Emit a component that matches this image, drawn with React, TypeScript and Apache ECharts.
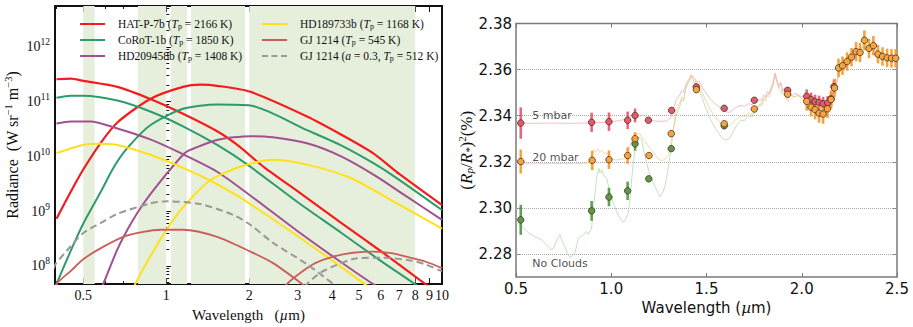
import React, { useEffect, useRef } from 'react';
import * as echarts from 'echarts';

// ---------- Left panel: [wavelength (µm), log10 radiance (W sr^-1 m^-3)] ----------
const hatP7Reflected = [[0.40, 11.41], [0.45, 11.42], [0.50, 11.38], [0.665, 11.27], [0.875, 11.05], [1.15, 10.78], [1.53, 10.46], [1.81, 10.21], [2.28, 9.79], [3.06, 9.33], [4.27, 8.80], [6.11, 8.24], [8.32, 7.74], [10, 7.45]];
const hatP7Thermal = [[0.40, 8.86], [0.449, 9.34], [0.50, 9.76], [0.577, 10.24], [0.665, 10.62], [0.875, 11.05], [1.15, 11.27], [1.33, 11.31], [1.53, 11.29], [2.02, 11.18], [3.24, 10.73], [4.27, 10.41], [5.62, 10.06], [7.04, 9.67], [10, 9.11]];
const coRoT1Reflected = [[0.40, 11.07], [0.45, 11.11], [0.50, 11.11], [0.665, 11.02], [0.875, 10.82], [1.15, 10.55], [1.53, 10.21], [1.97, 9.85], [3.06, 9.13], [4.27, 8.62], [5.96, 8.10], [7.85, 7.69], [10, 7.31]];
const coRoT1Thermal = [[0.39, 7.55], [0.40, 7.67], [0.449, 8.26], [0.50, 8.77], [0.577, 9.34], [0.643, 9.79], [0.722, 10.15], [0.875, 10.57], [1.15, 10.87], [1.53, 10.95], [2.02, 10.93], [3.24, 10.48], [4.27, 10.21], [5.62, 9.88], [6.87, 9.60], [10, 9.02]];
const hd209458Reflected = [[0.40, 10.60], [0.45, 10.64], [0.53, 10.64], [0.665, 10.51], [0.875, 10.31], [1.15, 10.04], [1.53, 9.72], [2.0, 9.30], [3.06, 8.60], [4.27, 8.08], [5.62, 7.67], [10, 6.90]];
const hd209458Thermal = [[0.56, 7.40], [0.591, 7.67], [0.665, 8.30], [0.74, 8.75], [0.825, 9.13], [0.951, 9.54], [1.15, 10.03], [1.20, 10.10], [1.53, 10.30], [2.02, 10.37], [2.44, 10.35], [3.24, 10.24], [4.27, 10.01], [5.72, 9.65], [7.53, 9.25], [10, 8.84]];
const hd189733Reflected = [[0.40, 10.06], [0.50, 10.21], [0.562, 10.23], [0.665, 10.21], [0.875, 10.03], [1.15, 9.79], [1.44, 9.56], [1.85, 9.25], [3.06, 8.51], [5.17, 7.69], [10, 6.60]];
const hd189733Thermal = [[0.74, 7.45], [0.772, 7.67], [0.875, 8.17], [1.008, 8.68], [1.15, 9.07], [1.44, 9.56], [1.85, 9.81], [2.44, 9.94], [3.24, 9.85], [4.64, 9.61], [6.76, 9.16], [10, 8.68]];
const gj1214Reflected = [[0.39, 7.50], [0.403, 7.69], [0.449, 7.90], [0.50, 8.12], [0.577, 8.32], [0.699, 8.53], [0.825, 8.62], [0.951, 8.66], [1.15, 8.66], [1.53, 8.53], [2.02, 8.26], [2.44, 8.05], [3.11, 7.67], [3.93, 7.27]];
const gj1214Thermal = [[2.5, 7.40], [2.744, 7.67], [3.06, 7.87], [3.47, 8.05], [4.03, 8.17], [4.76, 8.24], [5.62, 8.26], [6.64, 8.23], [7.66, 8.15], [8.68, 8.08], [10, 7.96]];
const gj1214AlbedoReflected = [[0.39, 7.95], [0.399, 8.05], [0.449, 8.35], [0.50, 8.60], [0.577, 8.78], [0.665, 8.95], [0.875, 9.14], [1.008, 9.18], [1.33, 9.13], [1.75, 8.93], [2.02, 8.75], [2.44, 8.42], [3.24, 8.03], [4.03, 7.67], [4.6, 7.45]];
const gj1214AlbedoThermal = [[3.0, 7.45], [3.243, 7.67], [3.614, 7.87], [4.03, 7.99], [4.92, 8.14], [6.11, 8.15], [7.66, 8.10], [8.68, 8.03], [10, 7.90]];

const shadedBands = [[0.5, 0.55], [0.79, 1.0], [1.04, 1.19], [1.23, 1.93], [2.0, 8.0]];
const leftWavelengthRange = [0.395, 10];
const leftLogRadianceRange = [7.667, 12.748];
const leftXTickLabels = [0.5, 1, 2, 3, 4, 5, 6, 7, 8, 9, 10];
const leftXMinorTicks = [0.4, 0.6, 0.7, 0.8, 0.9];
const leftYDecades = [8, 9, 10, 11, 12];

// ---------- Right panel: transit depth (%) ----------
const model5mbar = [[0.50, 2.3368], [0.60, 2.3367], [0.70, 2.3368], [0.80, 2.3367], [0.88, 2.3369], [0.92, 2.3371], [0.96, 2.3370], [1.00, 2.3374], [1.04, 2.3378], [1.07, 2.3384], [1.09, 2.3392], [1.11, 2.3401], [1.13, 2.3405], [1.15, 2.3398], [1.17, 2.3402], [1.19, 2.3388], [1.22, 2.3378], [1.26, 2.3375], [1.29, 2.3377], [1.31, 2.3388], [1.32, 2.3410], [1.33, 2.3440], [1.34, 2.3468], [1.36, 2.3490], [1.37, 2.3510], [1.38, 2.3502], [1.39, 2.3532], [1.40, 2.3548], [1.41, 2.3560], [1.42, 2.3578], [1.43, 2.3568], [1.44, 2.3560], [1.45, 2.3545], [1.46, 2.3550], [1.48, 2.3520], [1.50, 2.3495], [1.52, 2.3472], [1.55, 2.3448], [1.58, 2.3428], [1.60, 2.3418], [1.62, 2.3414], [1.64, 2.3425], [1.66, 2.3438], [1.68, 2.3445], [1.70, 2.3440], [1.72, 2.3452], [1.74, 2.3448], [1.76, 2.3460], [1.78, 2.3472], [1.79, 2.3465], [1.80, 2.3490], [1.81, 2.3480], [1.82, 2.3505], [1.83, 2.3495], [1.84, 2.3525], [1.85, 2.3545], [1.86, 2.3585], [1.87, 2.3555], [1.88, 2.3530], [1.89, 2.3545], [1.90, 2.3510], [1.91, 2.3520], [1.92, 2.3495], [1.93, 2.3505], [1.95, 2.3490], [1.97, 2.3498], [1.99, 2.3485], [2.02, 2.3480], [2.05, 2.3470], [2.08, 2.3460], [2.11, 2.3456], [2.14, 2.3462], [2.16, 2.3490], [2.18, 2.3540], [2.20, 2.3590], [2.22, 2.3615], [2.26, 2.3650], [2.30, 2.3675], [2.33, 2.3710], [2.36, 2.3690], [2.39, 2.3685], [2.42, 2.3660], [2.46, 2.3650], [2.50, 2.3648]];
const model20mbar = [[0.50, 2.3192], [0.60, 2.3191], [0.70, 2.3193], [0.80, 2.3192], [0.88, 2.3194], [0.89, 2.3215], [0.90, 2.3240], [0.91, 2.3252], [0.92, 2.3244], [0.93, 2.3256], [0.94, 2.3240], [0.95, 2.3250], [0.96, 2.3238], [0.98, 2.3236], [1.00, 2.3215], [1.02, 2.3208], [1.05, 2.3210], [1.07, 2.3215], [1.09, 2.3240], [1.10, 2.3275], [1.11, 2.3300], [1.12, 2.3315], [1.13, 2.3325], [1.14, 2.3318], [1.15, 2.3322], [1.16, 2.3305], [1.18, 2.3285], [1.20, 2.3262], [1.22, 2.3240], [1.24, 2.3220], [1.26, 2.3205], [1.28, 2.3208], [1.30, 2.3230], [1.31, 2.3265], [1.32, 2.3310], [1.33, 2.3365], [1.34, 2.3420], [1.36, 2.3455], [1.37, 2.3480], [1.38, 2.3470], [1.39, 2.3520], [1.40, 2.3545], [1.41, 2.3555], [1.42, 2.3575], [1.43, 2.3562], [1.44, 2.3552], [1.45, 2.3530], [1.46, 2.3538], [1.48, 2.3495], [1.50, 2.3460], [1.52, 2.3425], [1.55, 2.3390], [1.58, 2.3362], [1.60, 2.3352], [1.62, 2.3356], [1.64, 2.3372], [1.66, 2.3388], [1.68, 2.3400], [1.70, 2.3395], [1.72, 2.3412], [1.74, 2.3405], [1.76, 2.3432], [1.78, 2.3450], [1.79, 2.3440], [1.80, 2.3475], [1.81, 2.3462], [1.82, 2.3490], [1.83, 2.3482], [1.84, 2.3512], [1.85, 2.3535], [1.86, 2.3580], [1.87, 2.3548], [1.88, 2.3520], [1.89, 2.3538], [1.90, 2.3500], [1.91, 2.3512], [1.92, 2.3478], [1.93, 2.3460], [1.94, 2.3490], [1.96, 2.3482], [1.98, 2.3490], [2.00, 2.3475], [2.03, 2.3462], [2.06, 2.3438], [2.09, 2.3415], [2.12, 2.3408], [2.14, 2.3430], [2.16, 2.3475], [2.18, 2.3540], [2.20, 2.3595], [2.22, 2.3615], [2.26, 2.3650], [2.30, 2.3675], [2.33, 2.3712], [2.36, 2.3692], [2.39, 2.3685], [2.42, 2.3660], [2.46, 2.3650], [2.50, 2.3648]];
const modelNoClouds = [[0.50, 2.2935], [0.525, 2.2926], [0.56, 2.2895], [0.60, 2.2875], [0.635, 2.2861], [0.66, 2.2838], [0.687, 2.2817], [0.70, 2.2830], [0.715, 2.2860], [0.731, 2.2883], [0.745, 2.2850], [0.757, 2.2832], [0.77, 2.2800], [0.783, 2.2786], [0.795, 2.2792], [0.81, 2.2806], [0.827, 2.2868], [0.84, 2.2875], [0.853, 2.2883], [0.871, 2.2897], [0.88, 2.2885], [0.897, 2.2912], [0.905, 2.2990], [0.915, 2.3064], [0.925, 2.3140], [0.935, 2.3172], [0.941, 2.3151], [0.95, 2.3165], [0.96, 2.3140], [0.976, 2.3129], [0.99, 2.3075], [1.011, 2.3020], [1.03, 2.2980], [1.046, 2.2955], [1.063, 2.2936], [1.075, 2.2950], [1.089, 2.2977], [1.10, 2.3050], [1.107, 2.3122], [1.115, 2.3190], [1.125, 2.3252], [1.142, 2.3310], [1.159, 2.3296], [1.17, 2.3250], [1.186, 2.3194], [1.20, 2.3150], [1.221, 2.3107], [1.24, 2.3075], [1.256, 2.3049], [1.27, 2.3065], [1.282, 2.3093], [1.295, 2.3150], [1.308, 2.3223], [1.326, 2.3339], [1.34, 2.3400], [1.36, 2.3440], [1.37, 2.3470], [1.38, 2.3462], [1.39, 2.3510], [1.40, 2.3535], [1.41, 2.3550], [1.42, 2.3570], [1.43, 2.3555], [1.44, 2.3540], [1.45, 2.3515], [1.46, 2.3520], [1.48, 2.3470], [1.50, 2.3425], [1.52, 2.3385], [1.55, 2.3340], [1.58, 2.3305], [1.60, 2.3295], [1.62, 2.3300], [1.64, 2.3330], [1.66, 2.3360], [1.68, 2.3380], [1.70, 2.3378], [1.72, 2.3400], [1.74, 2.3395], [1.76, 2.3425], [1.78, 2.3445], [1.80, 2.3470], [1.82, 2.3488], [1.84, 2.3510], [1.85, 2.3532], [1.86, 2.3578], [1.87, 2.3545], [1.88, 2.3518], [1.90, 2.3498], [1.92, 2.3475], [1.94, 2.3488], [1.96, 2.3480], [1.98, 2.3488], [2.00, 2.3472], [2.03, 2.3460], [2.06, 2.3436], [2.09, 2.3413], [2.12, 2.3406], [2.14, 2.3428], [2.16, 2.3473], [2.18, 2.3538], [2.20, 2.3593], [2.22, 2.3613], [2.26, 2.3648], [2.30, 2.3673], [2.33, 2.3710], [2.36, 2.3690], [2.39, 2.3683], [2.42, 2.3658], [2.46, 2.3648], [2.50, 2.3646]];

const redWavelengths = [0.525, 0.897, 0.988, 1.086, 1.125, 1.195, 1.317, 1.446, 1.593, 1.751, 1.926, 2.026, 2.049, 2.070, 2.091, 2.112, 2.136, 2.154, 2.169];
const redDepths = [2.3368, 2.3371, 2.3374, 2.3380, 2.3401, 2.3380, 2.3423, 2.3525, 2.3432, 2.3467, 2.3510, 2.3484, 2.3470, 2.3461, 2.3457, 2.3452, 2.3455, 2.3473, 2.3526];
const redErrors = [0.0068, 0.0042, 0.0040, 0.0038, 0.0030, 0.0012, 0.0008, 0.0010, 0.0008, 0.0008, 0.0010, 0.0030, 0.0030, 0.0030, 0.0030, 0.0030, 0.0030, 0.0030, 0.0030];
const greenWavelengths = [0.525, 0.897, 0.988, 1.086, 1.125, 1.197, 1.315, 1.593];
const greenDepths = [2.2948, 2.2987, 2.3047, 2.3074, 2.3278, 2.3126, 2.3257, 2.3356];
const greenErrors = [0.0065, 0.0043, 0.0040, 0.0040, 0.0030, 0.0012, 0.0008, 0.0008];
const orangeWavelengths = [0.525, 0.900, 0.988, 1.086, 1.125, 1.198, 1.315, 1.447, 1.593, 1.751, 1.926, 2.026, 2.049, 2.070, 2.091, 2.112, 2.135, 2.154, 2.172, 2.193, 2.214, 2.238, 2.261, 2.285, 2.306, 2.329, 2.353, 2.376, 2.400, 2.424, 2.448, 2.471, 2.493];
const orangeDepths = [2.3201, 2.3206, 2.3209, 2.3227, 2.3300, 2.3227, 2.3322, 2.3513, 2.3365, 2.3429, 2.3493, 2.3462, 2.3437, 2.3426, 2.3411, 2.3407, 2.3430, 2.3470, 2.3520, 2.3607, 2.3617, 2.3635, 2.3654, 2.3678, 2.3674, 2.3727, 2.3692, 2.3704, 2.3667, 2.3657, 2.3651, 2.3649, 2.3649];
const orangeErrors = [0.0052, 0.0042, 0.0040, 0.0036, 0.0028, 0.0012, 0.0008, 0.0010, 0.0008, 0.0008, 0.0008, 0.0040, 0.0040, 0.0042, 0.0042, 0.0042, 0.0040, 0.0040, 0.0040, 0.0040, 0.0040, 0.0040, 0.0040, 0.0042, 0.0042, 0.0043, 0.0042, 0.0042, 0.0040, 0.0040, 0.0040, 0.0040, 0.0040];

const rightWavelengthRange = [0.5, 2.5];
const rightDepthRange = [2.27, 2.38];
const rightYTicks = [2.28, 2.30, 2.32, 2.34, 2.36, 2.38];
const rightGridLines = [2.28, 2.30, 2.32, 2.34, 2.36];
const modelLabels = [
  { text: '5 mbar', wl: 0.585, depth: 2.3400 },
  { text: '20 mbar', wl: 0.585, depth: 2.3217 },
  { text: 'No Clouds', wl: 0.585, depth: 2.2757 },
];

const legendLabels: Record<string, string> = {
  'HAT-P-7b': 'HAT-P-7b ({i|T}{s|p} = 2166 K)',
  'CoRoT-1b': 'CoRoT-1b ({i|T}{s|p} = 1850 K)',
  'HD209458b': 'HD209458b ({i|T}{s|p} = 1408 K)',
  'HD189733b': 'HD189733b ({i|T}{s|p} = 1168 K)',
  'GJ 1214': 'GJ 1214 ({i|T}{s|p} = 545 K)',
  'GJ 1214 (a = 0.3)': 'GJ 1214 ({i|a} = 0.3, {i|T}{s|p} = 512 K)',
};

const SERIF = 'Liberation Serif';
const SANS = 'DejaVu Sans';
const SOLID_ICON = 'path://M0,0H25V2H0Z';
const DASH_ICON = 'path://M0,0H6V2H0Z M9.5,0H15.5V2H9.5Z M19,0H25V2H19Z';

function buildOption() {
  const L = Math.log10;
  const leftCurve = (name: string, pts: number[][], color: string, width: number, dashed = false) => ({
    type: 'line', name, xAxisIndex: 0, yAxisIndex: 0, silent: true,
    data: pts.map(([l, e]) => [L(l), e]),
    symbol: 'none', showSymbol: false, smooth: 0.25,
    lineStyle: { color, width, type: dashed ? [7, 4] : 'solid' },
    itemStyle: { color }, z: 3,
  });
  const rightModel = (pts: number[][], color: string, extra: any = {}) => ({
    type: 'line', xAxisIndex: 4, yAxisIndex: 4, silent: true, data: pts,
    symbol: 'none', showSymbol: false,
    lineStyle: { color, width: 1, opacity: 0.85 }, z: 6, ...extra,
  });
  const errorBars = (wl: number[], val: number[], err: number[], color: string) => ({
    type: 'custom', xAxisIndex: 4, yAxisIndex: 4, silent: true, z: 7,
    data: wl.map((w, i) => [w, val[i], err[i]]),
    encode: { x: 0, y: 1 },
    renderItem: (params: any, api: any) => {
      const x = api.value(0), y = api.value(1), e = api.value(2);
      const p1 = api.coord([x, y + e]);
      const p2 = api.coord([x, y - e]);
      return { type: 'line', shape: { x1: p1[0], y1: p1[1], x2: p2[0], y2: p2[1] }, style: { stroke: color, lineWidth: 2.6, opacity: 0.9 } };
    },
  });
  const points = (wl: number[], val: number[], color: string) => ({
    type: 'scatter', xAxisIndex: 4, yAxisIndex: 4, silent: true, z: 7,
    data: wl.map((w, i) => [w, val[i]]), symbolSize: 6.5,
    itemStyle: { color, borderColor: '#4a3020', borderWidth: 0.8, opacity: 1 },
  });

  const xMin = L(leftWavelengthRange[0]), xMax = L(leftWavelengthRange[1]);
  const [yMin, yMax] = leftLogRadianceRange;
  const yMinor: number[] = [];
  for (let d = 7; d <= 12; d++) for (let k = 2; k <= 9; k++) { const v = d + L(k); if (v > yMin && v < yMax) yMinor.push(v); }
  const xMajorVals = leftXTickLabels.map(L);
  const xMinorVals = leftXMinorTicks.map(L);

  const tickBase = (vals: number[], len: number, color: string) => ({ show: true, inside: true, length: len, customValues: vals, lineStyle: { color, width: 1 } });
  const hiddenAxis = { axisLine: { show: false }, axisLabel: { show: false }, splitLine: { show: false } };

  const leftX = (position: string, vals: number[], len: number, labels: boolean) => ({
    type: 'value', gridIndex: 0, position, min: xMin, max: xMax,
    axisLine: { show: false }, splitLine: { show: false },
    axisTick: tickBase(vals, len, '#111'),
    axisLabel: labels ? {
      show: true, customValues: xMajorVals, margin: 4, color: '#111', fontFamily: SERIF, fontSize: 14,
      formatter: (v: number) => String(Number(Math.pow(10, v).toPrecision(2))),
    } : { show: false },
    ...(labels ? {
      name: 'Wavelength   ({i|µ}m)', nameLocation: 'middle', nameGap: 21,
      nameTextStyle: { fontFamily: SERIF, fontSize: 15, color: '#111', rich: { i: { fontFamily: SERIF, fontSize: 15, fontStyle: 'italic', color: '#111' } } },
    } : {}),
  });
  const leftY = (position: string, vals: number[], len: number, labels: boolean) => ({
    type: 'value', gridIndex: 0, position, min: yMin, max: yMax,
    axisLine: { show: false }, splitLine: { show: false },
    axisTick: tickBase(vals, len, '#111'),
    axisLabel: labels ? {
      show: true, customValues: leftYDecades, margin: 5,
      formatter: (v: number) => `{b|10}{e|${Math.round(v)}}`,
      rich: {
        b: { fontFamily: SERIF, fontSize: 14, color: '#111' },
        e: { fontFamily: SERIF, fontSize: 9.5, color: '#111', padding: [0, 0, 9, 0] },
      },
    } : { show: false },
    ...(labels ? {
      name: 'Radiance  (W sr{e|−1} m{e|−3})', nameLocation: 'middle', nameGap: 33, nameRotate: 90,
      nameTextStyle: { fontFamily: SERIF, fontSize: 16, color: '#111', rich: { e: { fontFamily: SERIF, fontSize: 10.5, color: '#111', padding: [0, 0, 8, 0] } } },
    } : {}),
  });

  const rightTick = { show: true, inside: true, length: 4, lineStyle: { color: '#777', width: 1 } };
  const legendNames = [['HAT-P-7b', 'CoRoT-1b', 'HD209458b'], ['HD189733b', 'GJ 1214', 'GJ 1214 (a = 0.3)']];

  return {
    animation: false,
    backgroundColor: '#fff',
    textStyle: { fontFamily: SERIF },
    grid: [
      { left: 55, top: 6, width: 387, height: 282, show: true, borderColor: '#111', borderWidth: 2, backgroundColor: 'transparent' },
      { left: 516, top: 23.5, width: 381, height: 253.5, show: true, borderColor: '#7a7a7a', borderWidth: 1.5, backgroundColor: 'transparent' },
    ],
    legend: [0, 1].map((c) => ({
      data: legendNames[c].map((n) => ({ name: n, icon: n === 'GJ 1214 (a = 0.3)' ? DASH_ICON : SOLID_ICON })),
      orient: 'vertical', left: c === 0 ? 80 : 262, top: 18, padding: 0,
      itemWidth: 25, itemHeight: 2.4, itemGap: 4, selectedMode: false,
      formatter: (n: string) => legendLabels[n],
      textStyle: {
        fontFamily: SERIF, fontSize: 11.5, color: '#111', padding: [0, 0, 0, 8],
        rich: {
          i: { fontFamily: SERIF, fontSize: 11.5, fontStyle: 'italic', color: '#111' },
          s: { fontFamily: SERIF, fontSize: 8, color: '#111', padding: [4, 0, 0, 0] },
        },
      },
    })),
    xAxis: [
      leftX('bottom', xMajorVals, 6, true),
      leftX('top', xMajorVals, 6, false),
      leftX('bottom', xMinorVals, 3, false),
      leftX('top', xMinorVals, 3, false),
      {
        type: 'value', gridIndex: 1, position: 'bottom', min: rightWavelengthRange[0], max: rightWavelengthRange[1], interval: 0.5,
        axisLine: { show: false }, splitLine: { show: false }, axisTick: rightTick,
        axisLabel: { margin: 4, color: '#111', fontFamily: SANS, fontSize: 15, formatter: (v: number) => v.toFixed(1) },
        name: 'Wavelength ({i|µ}m)', nameLocation: 'middle', nameGap: 20,
        nameTextStyle: { fontFamily: SANS, fontSize: 15, color: '#111', rich: { i: { fontFamily: 'DejaVu Serif', fontSize: 15, fontStyle: 'italic', color: '#111' } } },
      },
      { type: 'value', gridIndex: 1, position: 'top', min: rightWavelengthRange[0], max: rightWavelengthRange[1], interval: 0.5, axisTick: rightTick, ...hiddenAxis },
    ],
    yAxis: [
      leftY('left', leftYDecades, 6, true),
      leftY('right', leftYDecades, 6, false),
      leftY('left', yMinor, 3, false),
      leftY('right', yMinor, 3, false),
      {
        type: 'value', gridIndex: 1, position: 'left', min: rightDepthRange[0], max: rightDepthRange[1],
        axisLine: { show: false }, splitLine: { show: false },
        axisTick: { ...rightTick, customValues: rightYTicks },
        axisLabel: { customValues: rightYTicks, margin: 4, color: '#111', fontFamily: SANS, fontSize: 15, formatter: (v: number) => v.toFixed(2) },
        name: '({i|R}{s|p}/{i|R}{s|*}){e|2}(%)', nameLocation: 'middle', nameGap: 40, nameRotate: 90,
        nameTextStyle: {
          fontFamily: SERIF, fontSize: 17, color: '#111',
          rich: {
            i: { fontFamily: SERIF, fontSize: 17, fontStyle: 'italic', color: '#111' },
            s: { fontFamily: SERIF, fontSize: 11, fontStyle: 'italic', color: '#111', padding: [6, 0, 0, 0] },
            e: { fontFamily: SERIF, fontSize: 11, color: '#111', padding: [0, 0, 9, 0] },
          },
        },
      },
      {
        type: 'value', gridIndex: 1, position: 'right', min: rightDepthRange[0], max: rightDepthRange[1],
        axisTick: { ...rightTick, customValues: rightYTicks }, ...hiddenAxis,
      },
    ],
    series: [
      {
        ...leftCurve('HAT-P-7b', hatP7Reflected, '#f41c1c', 2.2),
        markArea: {
          silent: true, itemStyle: { color: '#e6efdc' },
          data: shadedBands.map(([a, b]) => [{ xAxis: L(a) }, { xAxis: L(b) }]),
        },
      },
      leftCurve('HAT-P-7b', hatP7Thermal, '#f41c1c', 2.2),
      leftCurve('CoRoT-1b', coRoT1Reflected, '#2e9b6a', 2),
      leftCurve('CoRoT-1b', coRoT1Thermal, '#2e9b6a', 2),
      leftCurve('HD209458b', hd209458Reflected, '#a2508f', 2),
      leftCurve('HD209458b', hd209458Thermal, '#a2508f', 2),
      leftCurve('HD189733b', hd189733Reflected, '#ffe11a', 2),
      leftCurve('HD189733b', hd189733Thermal, '#ffe11a', 2),
      leftCurve('GJ 1214', gj1214Reflected, '#c95f5b', 1.8),
      leftCurve('GJ 1214', gj1214Thermal, '#c95f5b', 1.8),
      leftCurve('GJ 1214 (a = 0.3)', gj1214AlbedoReflected, '#999999', 2, true),
      leftCurve('GJ 1214 (a = 0.3)', gj1214AlbedoThermal, '#999999', 2, true),

      rightModel(modelNoClouds, '#bcdab2', {
        markLine: {
          silent: true, symbol: 'none', label: { show: false }, animation: false,
          lineStyle: { type: 'dotted', color: '#a8a8a8', width: 1 },
          data: rightGridLines.map((v) => ({ yAxis: v })),
        },
      }),
      rightModel(model20mbar, '#f8cf9c'),
      rightModel(model5mbar, '#f3b3ba'),
      errorBars(redWavelengths, redDepths, redErrors, '#e4566c'),
      points(redWavelengths, redDepths, '#e15b6b'),
      errorBars(greenWavelengths, greenDepths, greenErrors, '#4f9640'),
      points(greenWavelengths, greenDepths, '#5c9a48'),
      errorBars(orangeWavelengths, orangeDepths, orangeErrors, '#f39a28'),
      points(orangeWavelengths, orangeDepths, '#f7a440'),
      {
        type: 'scatter', xAxisIndex: 4, yAxisIndex: 4, silent: true, z: 8,
        symbolSize: 0,
        data: modelLabels.map((m) => ({ value: [m.wl, m.depth], name: m.text })),
        label: {
          show: true, position: [0, 0], align: 'left', verticalAlign: 'middle',
          formatter: (p: any) => p.name, fontFamily: SANS, fontSize: 11, color: '#222',
        },
      },
    ],
  };
}

export default function App() {
  const ref = useRef<HTMLDivElement>(null);
  useEffect(() => {
    if (!ref.current) return;
    const chart = echarts.init(ref.current, undefined, { renderer: 'svg' });
    chart.setOption(buildOption() as any);
    return () => chart.dispose();
  }, []);
  return <div ref={ref} style={{ position: 'fixed', left: 0, top: 0, width: 913, height: 327, background: '#fff' }} />;
}
